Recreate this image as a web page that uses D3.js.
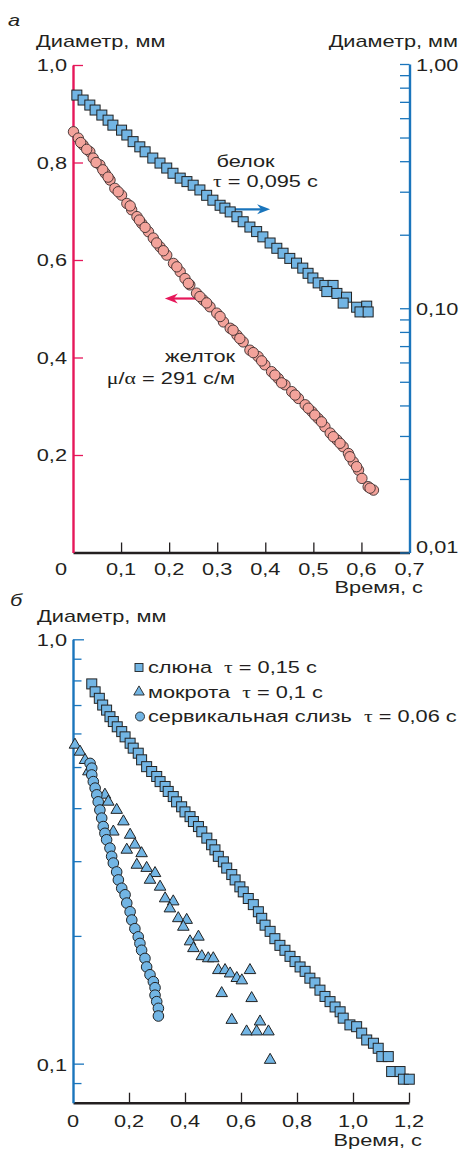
<!DOCTYPE html>
<html>
<head>
<meta charset="utf-8">
<script src="https://cdn.jsdelivr.net/npm/d3@7"></script>
<style>
  body { margin: 0; background: #fff; }
  svg text { font-family: "Liberation Sans", Arial, sans-serif; font-size: 17px; fill: #231f20; }
  .sym { font-family: "Liberation Serif", "DejaVu Serif", serif; }
</style>
</head>
<body>
<svg id="chart" width="461" height="1149"></svg>
<script>
// ---- panel a: egg white (right log axis) and yolk (left linear axis), [time s, diameter mm]
const eggWhite = [
  [0.008,0.746],[0.021,0.712],[0.035,0.679],[0.046,0.648],[0.060,0.618],[0.073,0.589],[0.083,0.562],
  [0.101,0.536],[0.112,0.512],[0.125,0.481],[0.139,0.458],[0.150,0.437],[0.166,0.412],[0.181,0.393],
  [0.195,0.375],[0.208,0.357],[0.223,0.341],[0.237,0.330],[0.250,0.319],[0.264,0.305],[0.278,0.290],
  [0.291,0.277],[0.306,0.264],[0.316,0.257],[0.327,0.248],[0.341,0.237],[0.354,0.226],[0.368,0.215],
  [0.382,0.206],[0.395,0.196],[0.410,0.185],[0.424,0.176],[0.437,0.168],[0.451,0.160],[0.465,0.153],
  [0.478,0.146],[0.489,0.139],[0.499,0.133],[0.510,0.127],[0.524,0.124],[0.541,0.124],[0.528,0.117],
  [0.549,0.115],[0.569,0.111],[0.562,0.105],[0.590,0.101],[0.611,0.102],[0.597,0.0966],[0.614,0.0966]
];
const yolk = [
  [0.001,0.863],[0.011,0.850],[0.021,0.836],[0.035,0.822],[0.042,0.809],[0.056,0.795],[0.067,0.778],
  [0.077,0.764],[0.087,0.747],[0.101,0.733],[0.112,0.716],[0.122,0.703],[0.133,0.689],[0.143,0.675],
  [0.157,0.658],[0.167,0.645],[0.181,0.627],[0.195,0.610],[0.209,0.593],[0.223,0.576],[0.233,0.562],
  [0.243,0.549],[0.257,0.532],[0.271,0.518],[0.285,0.504],[0.299,0.491],[0.313,0.473],[0.327,0.460],
  [0.341,0.446],[0.354,0.432],[0.368,0.415],[0.385,0.402],[0.399,0.385],[0.413,0.371],[0.427,0.357],
  [0.441,0.344],[0.455,0.330],[0.469,0.316],[0.483,0.303],[0.497,0.289],[0.510,0.275],[0.524,0.258],
  [0.535,0.245],[0.549,0.231],[0.562,0.217],[0.573,0.203],[0.583,0.186],[0.594,0.169],[0.601,0.152],
  [0.614,0.135],[0.625,0.128],
  [0.016,0.841],[0.0285,0.827],[0.048,0.800],[0.062,0.785],[0.073,0.770],[0.094,0.740],[0.119,0.711],
  [0.138,0.682],[0.150,0.667],[0.174,0.635],[0.188,0.619],[0.216,0.586],[0.240,0.552],[0.264,0.525],
  [0.278,0.512],[0.306,0.484],[0.333,0.456],[0.347,0.439],[0.375,0.410],[0.3925,0.393],[0.420,0.364],
  [0.434,0.348],[0.462,0.323],[0.4895,0.296],[0.503,0.282],[0.517,0.268],[0.5415,0.2375],[0.5555,0.224],
  [0.576,0.1965],[0.590,0.176],[0.618,0.132]
];

// ---- panel б: saliva, sputum, cervical mucus (log axis)
const saliva = [
  [0.067,0.785],[0.079,0.752],[0.094,0.726],[0.106,0.700],[0.120,0.681],[0.132,0.657],[0.144,0.640],
  [0.158,0.622],[0.174,0.606],[0.186,0.589],[0.204,0.569],[0.215,0.554],[0.233,0.539],[0.245,0.520],
  [0.263,0.501],[0.281,0.488],[0.299,0.475],[0.311,0.462],[0.329,0.450],[0.340,0.438],[0.358,0.426],
  [0.370,0.414],[0.388,0.403],[0.400,0.392],[0.418,0.382],[0.430,0.372],[0.448,0.362],[0.460,0.352],
  [0.478,0.340],[0.495,0.328],[0.507,0.319],[0.519,0.308],[0.537,0.299],[0.549,0.289],[0.567,0.279],
  [0.579,0.271],[0.596,0.261],[0.608,0.254],[0.626,0.245],[0.644,0.237],[0.662,0.228],[0.674,0.220],
  [0.686,0.212],[0.704,0.205],[0.721,0.197],[0.739,0.190],[0.757,0.185],[0.775,0.179],[0.793,0.174],
  [0.811,0.169],[0.829,0.165],[0.846,0.159],[0.864,0.155],[0.882,0.149],[0.900,0.144],[0.918,0.140],
  [0.936,0.136],[0.954,0.1325],[0.965,0.128],[0.989,0.1234],[1.013,0.1222],[1.031,0.118],[1.049,0.1137],
  [1.073,0.1117],[1.090,0.1087],[1.103,0.1039],[1.126,0.1039],[1.138,0.0958],[1.168,0.0958],
  [1.180,0.0919],[1.201,0.0919]
];
const sputum = [
  [0.007,0.564],[0.025,0.543],[0.043,0.519],[0.055,0.488],[0.114,0.430],[0.126,0.414],[0.156,0.396],
  [0.180,0.372],[0.144,0.352],[0.204,0.346],[0.221,0.328],[0.192,0.319],[0.245,0.313],[0.228,0.294],
  [0.263,0.289],[0.293,0.281],[0.275,0.271],[0.311,0.261],[0.329,0.245],[0.358,0.241],[0.346,0.232],
  [0.376,0.220],[0.406,0.218],[0.394,0.210],[0.448,0.199],[0.418,0.194],[0.430,0.187],[0.460,0.179],
  [0.483,0.177],[0.501,0.177],[0.519,0.166],[0.543,0.166],[0.561,0.163],[0.585,0.159],[0.603,0.157],
  [0.632,0.166],[0.531,0.1465],[0.638,0.1426],[0.567,0.1267],[0.668,0.1256],[0.620,0.119],
  [0.656,0.119],[0.698,0.119],[0.704,0.102]
];
const mucus = [
  [0.061,0.510],[0.067,0.497],[0.067,0.479],[0.0725,0.462],[0.079,0.446],[0.085,0.430],[0.090,0.414],
  [0.096,0.396],[0.1025,0.379],[0.108,0.362],[0.114,0.349],[0.120,0.337],[0.132,0.322],[0.138,0.308],
  [0.144,0.297],[0.156,0.283],[0.162,0.271],[0.174,0.259],[0.186,0.250],[0.192,0.239],[0.204,0.228],
  [0.210,0.218],[0.221,0.208],[0.233,0.199],[0.239,0.192],[0.245,0.185],[0.257,0.177],[0.263,0.169],
  [0.275,0.162],[0.287,0.156],[0.293,0.151],[0.293,0.145],[0.299,0.140],[0.305,0.135],[0.305,0.1295]
];

// ticks
const topXTicks = [0, 0.1, 0.2, 0.3, 0.4, 0.5, 0.6, 0.7];
const topLeftTicks = [0.2, 0.4, 0.6, 0.8, 1.0];
const topRightLabels = [0.01, 0.1, 1];
const botXTicks = [0, 0.2, 0.4, 0.6, 0.8, 1.0, 1.2];
const botYLabels = [0.1, 1];
const legendRows = [
  { name: 'слюна', tau: '0,15' },
  { name: 'мокрота', tau: '0,1' },
  { name: 'сервикальная слизь', tau: '0,06' }
];

const BLUE = '#1a75bc', RED = '#e6175a', INK = '#231f20';
const FILL_BLUE = '#72b5e4', FILL_PINK = '#f3a39b', EDGE = '#222';
const SX = 1.28; // reference type is set wide
const NB = '\u00a0';

const svg = d3.select('#chart');
const comma = (f) => (d) => (d === 0 ? '0' : d3.format(f)(d).replace('.', ','));

// text helper: horizontally widened label
function label(x, y, s, anchor = 'start', style) {
  const t = svg.append('text')
    .attr('transform', `translate(${x},${y}) scale(${SX},1)`)
    .attr('text-anchor', anchor)
    .text(s);
  if (style) t.attr('font-style', style);
  return t;
}

// ================= panel a =================
const xTop = d3.scaleLinear([0, 0.7], [73, 409.5]);
const yLeft = d3.scaleLinear([0, 1], [552.5, 65]);
const yRight = d3.scaleLog([0.01, 1], [552.5, 64]);

svg.append('g')
  .attr('transform', `translate(0,${yLeft(0)})`)
  .call(d3.axisTop(xTop).tickValues(topXTicks.slice(1)).tickSize(10).tickSizeOuter(0).tickFormat(''))
  .call((g) => g.select('.domain').attr('stroke', INK).attr('stroke-width', 2.4))
  .call((g) => g.selectAll('.tick line').attr('stroke', INK).attr('stroke-width', 1.3));

svg.append('g')
  .attr('transform', `translate(${xTop(0.7)},0)`)
  .call(d3.axisLeft(yRight).tickValues(yRight.ticks()).tickSize(9.5).tickSizeOuter(0).tickFormat(''))
  .call((g) => g.select('.domain').attr('stroke', BLUE).attr('stroke-width', 2.4))
  .call((g) => g.selectAll('.tick line').attr('stroke', BLUE).attr('stroke-width', 1.3));

svg.append('g')
  .attr('transform', `translate(${xTop(0)},0)`)
  .call(d3.axisRight(yLeft).tickValues(topLeftTicks).tickSize(10).tickSizeOuter(0).tickFormat(''))
  .call((g) => g.select('.domain').attr('stroke', RED).attr('stroke-width', 2.4))
  .call((g) => g.selectAll('.tick line').attr('stroke', RED).attr('stroke-width', 1.3));

// tick labels
topXTicks.forEach((d) => {
  if (d === 0) label(xTop(0) - 6, 575, '0', 'end');
  else label(xTop(d), 575, comma('.1f')(d), 'middle');
});
topLeftTicks.forEach((d) => label(67, yLeft(d) + 6, comma('.1f')(d), 'end'));
topRightLabels.forEach((d) => {
  const y = d === 0.01 ? yRight(d) : yRight(d) + 6.5;
  label(416, y, comma('.2f')(d), 'start');
});

label(8, 26, 'а', 'start', 'italic');
label(36, 47, 'Диаметр, мм');
label(458, 47, 'Диаметр, мм', 'end');
label(423, 593, 'Время, с', 'end');

// annotations
label(216.5, 166.5, 'белок');
const tw = label(213, 186.5, '');
tw.append('tspan').attr('class', 'sym').text('τ');
tw.append('tspan').text(' = 0,095 с');
label(235, 361.5, 'желток', 'end');
const ty = label(235, 383.5, '', 'end');
ty.append('tspan').attr('class', 'sym').text('μ');
ty.append('tspan').text('/');
ty.append('tspan').attr('class', 'sym').text('α');
ty.append('tspan').text(' = 291 с/м');

function arrow(x1, x2, y, color) {
  const dir = Math.sign(x2 - x1);
  svg.append('line').attr('x1', x1).attr('x2', x2 - dir * 8).attr('y1', y).attr('y2', y)
    .attr('stroke', color).attr('stroke-width', 2.2);
  svg.append('path')
    .attr('d', `M${x2},${y} L${x2 - dir * 13},${y - 5} L${x2 - dir * 9},${y} L${x2 - dir * 13},${y + 5} Z`)
    .attr('fill', color);
}
arrow(xTop(0.312), xTop(0.41), yRight(0.254), BLUE);
arrow(xTop(0.258), xTop(0.191), yLeft(0.521), RED);

// marks
svg.append('g').selectAll('circle').data(yolk).join('circle')
  .attr('cx', (d) => xTop(d[0])).attr('cy', (d) => yLeft(d[1])).attr('r', 5.2)
  .attr('fill', FILL_PINK).attr('stroke', '#3b2c2c').attr('stroke-width', 0.9);

svg.append('g').selectAll('rect').data(eggWhite).join('rect')
  .attr('x', (d) => xTop(d[0]) - 5).attr('y', (d) => yRight(d[1]) - 5)
  .attr('width', 10).attr('height', 10)
  .attr('fill', FILL_BLUE).attr('stroke', EDGE).attr('stroke-width', 1);

// ================= panel б =================
const xBot = d3.scaleLinear([0, 1.2], [73, 409]);
const yBot = d3.scaleLog([0.0809, 1], [1102.7, 639.3]);

svg.append('g')
  .attr('transform', `translate(0,${yBot.range()[0]})`)
  .call(d3.axisTop(xBot).tickValues(botXTicks.slice(1)).tickSize(10).tickSizeOuter(0).tickFormat(''))
  .call((g) => g.select('.domain').attr('stroke', INK).attr('stroke-width', 2.4))
  .call((g) => g.selectAll('.tick line').attr('stroke', INK).attr('stroke-width', 1.3));

svg.append('g')
  .attr('transform', `translate(${xBot(0)},0)`)
  .call(d3.axisRight(yBot).tickValues(yBot.ticks().filter((d) => !botYLabels.includes(d)))
    .tickSize(8.5).tickSizeOuter(0).tickFormat(''))
  .call((g) => g.select('.domain').attr('stroke', BLUE).attr('stroke-width', 2.4))
  .call((g) => g.selectAll('.tick line').attr('stroke', BLUE).attr('stroke-width', 1.3));

svg.append('g')
  .attr('transform', `translate(${xBot(0)},0)`)
  .call(d3.axisRight(yBot).tickValues(botYLabels).tickSize(11).tickSizeOuter(0).tickFormat(''))
  .call((g) => g.select('.domain').remove())
  .call((g) => g.selectAll('.tick line').attr('stroke', BLUE).attr('stroke-width', 1.3));

botXTicks.forEach((d) => label(xBot(d), 1127, comma('.1f')(d), 'middle'));
botYLabels.forEach((d) => label(67, yBot(d) + 7, comma('.1f')(d), 'end'));

label(10, 606, 'б', 'start', 'italic');
label(37, 622, 'Диаметр, мм');
label(422, 1146, 'Время, с', 'end');

// legend
legendRows.forEach((r, i) => {
  const y = 673 + i * 24.5;
  const t = label(148, y, r.name + NB + NB);
  t.append('tspan').attr('class', 'sym').text('τ');
  t.append('tspan').text(` = ${r.tau} с`);
  const cy = y - 5.5;
  if (i === 0) {
    svg.append('rect').attr('x', 135).attr('y', cy - 4).attr('width', 8).attr('height', 8)
      .attr('fill', FILL_BLUE).attr('stroke', EDGE).attr('stroke-width', 0.9);
  } else if (i === 1) {
    svg.append('path').attr('d', d3.symbol(d3.symbolTriangle, 48)())
      .attr('transform', `translate(139,${cy})`)
      .attr('fill', FILL_BLUE).attr('stroke', EDGE).attr('stroke-width', 0.9);
  } else {
    svg.append('circle').attr('cx', 140).attr('cy', cy).attr('r', 4.5)
      .attr('fill', FILL_BLUE).attr('stroke', EDGE).attr('stroke-width', 0.9);
  }
});

const tri = d3.symbol(d3.symbolTriangle, 58);
svg.append('g').selectAll('path').data(sputum).join('path')
  .attr('d', tri)
  .attr('transform', (d) => `translate(${xBot(d[0])},${yBot(d[1])})`)
  .attr('fill', FILL_BLUE).attr('stroke', EDGE).attr('stroke-width', 1);

svg.append('g').selectAll('circle').data(mucus).join('circle')
  .attr('cx', (d) => xBot(d[0])).attr('cy', (d) => yBot(d[1])).attr('r', 5.3)
  .attr('fill', FILL_BLUE).attr('stroke', EDGE).attr('stroke-width', 1);

svg.append('g').selectAll('rect').data(saliva).join('rect')
  .attr('x', (d) => xBot(d[0]) - 5).attr('y', (d) => yBot(d[1]) - 5)
  .attr('width', 10).attr('height', 10)
  .attr('fill', FILL_BLUE).attr('stroke', EDGE).attr('stroke-width', 1);
</script>
</body>
</html>
